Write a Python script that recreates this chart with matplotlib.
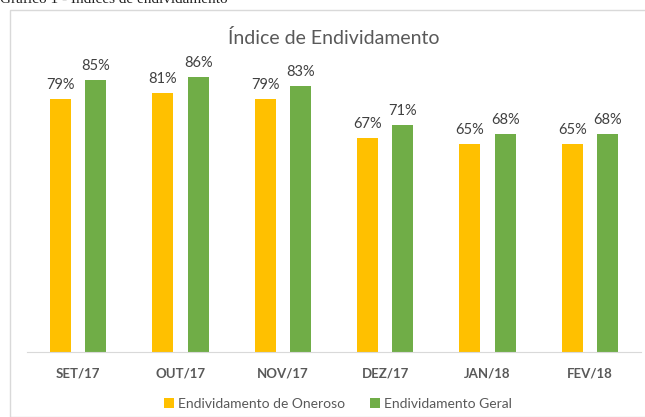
import matplotlib.pyplot as plt
import numpy as np
from matplotlib.patches import Rectangle

meses = ['SET/17', 'OUT/17', 'NOV/17', 'DEZ/17', 'JAN/18', 'FEV/18']
oneroso = [79, 81, 79, 67, 65, 65]
geral = [85, 86, 83, 71, 68, 68]

plt.rcParams['font.family'] = ['Lato', 'DejaVu Sans']
cinza = '#595959'

fig = plt.figure(figsize=(6.45, 4.17), dpi=100)
ax = fig.add_axes([27/645, 65/417, 614/645, 320/417])

# moldura do grafico e legenda cortada no topo
fig.patches.append(Rectangle((10/645, 0), 1, 1 - 10/417, transform=fig.transFigure,
                             fill=False, edgecolor='#D9D9D9', linewidth=1))
fig.text(0, 1 - 3/417, 'Gráfico 1 - Índices de endividamento', family='Liberation Serif',
         fontsize=11, va='baseline', ha='left', color='#222222')

x = np.arange(len(meses))
w = 0.205
b1 = ax.bar(x - 0.173, oneroso, w, color='#FFC000', label='Endividamento de Oneroso')
b2 = ax.bar(x + 0.173, geral, w, color='#70AD47', label='Endividamento Geral')

for bars, vals in ((b1, oneroso), (b2, geral)):
    for b, v in zip(bars, vals):
        ax.text(b.get_x() + b.get_width()/2, v + 2.2, f'{v}%', ha='center', va='bottom',
                fontsize=10.5, color='#404040')

ax.set_xlim(-0.5, len(meses) - 0.5)
ax.set_ylim(0, 100)
ax.set_yticks([])
ax.set_xticks(x)
ax.set_xticklabels(meses, fontweight='bold', fontsize=9.5, color=cinza)
ax.tick_params(axis='x', length=0, pad=11)
for s in ['top', 'right', 'left']:
    ax.spines[s].set_visible(False)
ax.spines['bottom'].set_color('#D9D9D9')
ax.patch.set_alpha(0)

fig.text(334/645, 1 - 38/417, 'Índice de Endividamento', ha='center', va='center',
         fontsize=14, color=cinza)

fig.legend(handles=[b1, b2], loc='center', bbox_to_anchor=(338/645, 13/417), ncol=2,
           frameon=False, fontsize=10, handlelength=0.7, handleheight=0.7,
           handletextpad=0.3, columnspacing=1.8, labelcolor=cinza)

plt.savefig('out.png', dpi=100)
